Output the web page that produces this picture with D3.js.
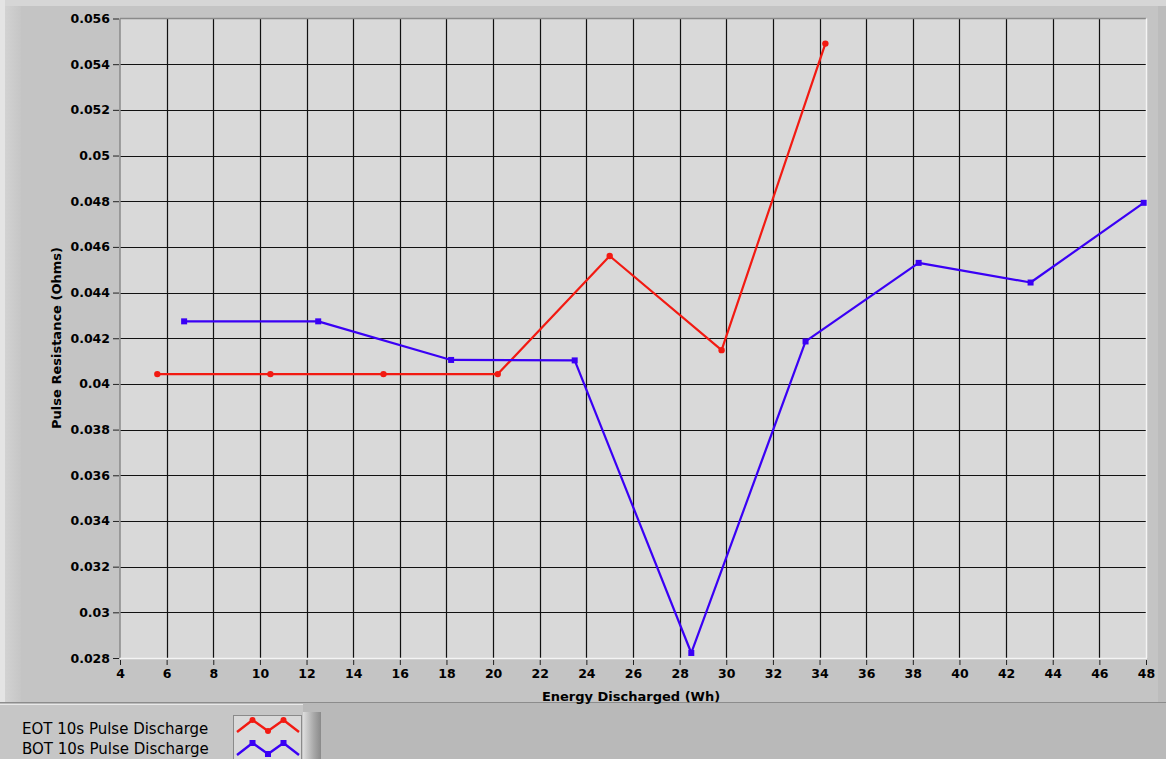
<!DOCTYPE html>
<html><head><meta charset="utf-8">
<script src="https://cdn.jsdelivr.net/npm/d3@7"></script>
<style>
html,body{margin:0;padding:0;background:#c4c4c4;overflow:hidden}
text{font-family:"DejaVu Sans",Verdana,sans-serif}
</style></head>
<body>
<svg id="c" width="1166" height="759"></svg>
<script>
// Data
const eotX = [5.6, 10.45, 15.3, 20.2, 25.0, 29.8, 34.25];
const eotY = [0.04043, 0.04043, 0.04043, 0.04043, 0.04560, 0.04148, 0.05490];
const botX = [6.75, 12.5, 18.2, 23.5, 28.5, 33.4, 38.25, 43.05, 47.9];
const botY = [0.04274, 0.04274, 0.04105, 0.04103, 0.02822, 0.04186, 0.04530, 0.04444, 0.04793];
const xTicks = [4,6,8,10,12,14,16,18,20,22,24,26,28,30,32,34,36,38,40,42,44,46,48];
const yTicks = [0.028,0.03,0.032,0.034,0.036,0.038,0.04,0.042,0.044,0.046,0.048,0.05,0.052,0.054,0.056];
const seriesNames = ["EOT 10s Pulse Discharge", "BOT 10s Pulse Discharge"];
const seriesColors = ["#f21a12", "#3a00f5"];
const xTitle = "Energy Discharged (Wh)";
const yTitle = "Pulse Resistance (Ohms)";

const svg = d3.select("#c");
const W = 1166, H = 759;
const L = 120, R = 1146, T = 18.5, B = 658;

// frame background
svg.append("rect").attr("x",0).attr("y",0).attr("width",W).attr("height",H).attr("fill","#c4c4c4");
svg.append("rect").attr("x",0).attr("y",0).attr("width",W).attr("height",6).attr("fill","#d6d6d6");
svg.append("rect").attr("x",0).attr("y",0).attr("width",5).attr("height",703).attr("fill","#e4e4e4");
const defs = svg.append("defs");
const lg = defs.append("linearGradient").attr("id","lstrip");
lg.append("stop").attr("offset","0%").attr("stop-color","#d2d2d2");
lg.append("stop").attr("offset","100%").attr("stop-color","#c6c6c6");
svg.append("rect").attr("x",5).attr("y",6).attr("width",16).attr("height",697).attr("fill","url(#lstrip)");
svg.append("rect").attr("x",1158).attr("y",6).attr("width",8).attr("height",697).attr("fill","#bcbcbc");
// bottom area
svg.append("rect").attr("x",0).attr("y",703).attr("width",W).attr("height",56).attr("fill","#b9b9b9");
svg.append("line").attr("x1",0).attr("x2",W).attr("y1",702.5).attr("y2",702.5).attr("stroke","#8c8c8c");
// legend panel
svg.append("rect").attr("x",0).attr("y",704).attr("width",303).attr("height",55).attr("fill","#c6c6c6");
svg.append("line").attr("x1",0).attr("x2",303).attr("y1",704.5).attr("y2",704.5).attr("stroke","#e8e8e8");
const sg = defs.append("linearGradient").attr("id","sbar");
sg.append("stop").attr("offset","0%").attr("stop-color","#dedede");
sg.append("stop").attr("offset","60%").attr("stop-color","#a8a8a8");
sg.append("stop").attr("offset","100%").attr("stop-color","#8a8a8a");
svg.append("rect").attr("x",303).attr("y",712).attr("width",18).attr("height",47).attr("fill","url(#sbar)");

// scales
const x = d3.scaleLinear().domain([4,48]).range([L,R]);
const y = d3.scaleLinear().domain([0.028,0.056]).range([B,T]);

// plot area
svg.append("rect").attr("x",L).attr("y",T).attr("width",R-L).attr("height",B-T).attr("fill","#d9d9d9");
// grid
const g = svg.append("g");
g.selectAll(".gx").data(xTicks.slice(1,-1)).join("line")
 .attr("x1",d=>Math.round(x(d))+0.5).attr("x2",d=>Math.round(x(d))+0.5)
 .attr("y1",T).attr("y2",B).attr("stroke","#111").attr("stroke-width",1.2);
g.selectAll(".gy").data(yTicks.slice(1,-1)).join("line")
 .attr("y1",d=>Math.round(y(d))+0.5).attr("y2",d=>Math.round(y(d))+0.5)
 .attr("x1",L).attr("x2",R).attr("stroke","#111").attr("stroke-width",1.2);
// borders
svg.append("line").attr("x1",L).attr("x2",R).attr("y1",T).attr("y2",T).attr("stroke","#8a8a8a").attr("stroke-width",1.5);
svg.append("line").attr("x1",L).attr("x2",L).attr("y1",T).attr("y2",B).attr("stroke","#8a8a8a").attr("stroke-width",1.5);
svg.append("line").attr("x1",L).attr("x2",R+1).attr("y1",B+0.5).attr("y2",B+0.5).attr("stroke","#f4f4f4").attr("stroke-width",1.5);
svg.append("line").attr("x1",R+0.5).attr("x2",R+0.5).attr("y1",T).attr("y2",B).attr("stroke","#f4f4f4").attr("stroke-width",1.5);

// axes
const xAxis = d3.axisBottom(x).tickValues(xTicks).tickSize(6).tickPadding(4).tickFormat(d3.format("d"));
const xa = svg.append("g").attr("transform",`translate(0,${B+1})`).call(xAxis);
const yAxis = d3.axisLeft(y).tickValues(yTicks).tickSize(6).tickPadding(3).tickFormat(d=>String(+d.toFixed(3)));
const ya = svg.append("g").attr("transform",`translate(${L-1},0)`).call(yAxis);
[xa,ya].forEach(a=>{
  a.select(".domain").remove();
  a.selectAll(".tick line").attr("stroke","#222");
  a.selectAll(".tick text").attr("fill","#000").attr("font-size","12.5px").attr("font-weight","bold")
   .style("font-family","'DejaVu Sans',Verdana,sans-serif");
});
xa.selectAll(".tick line").attr("y1",1);

svg.append("text").attr("x",631).attr("y",701).attr("text-anchor","middle")
 .attr("font-size","13px").attr("font-weight","bold").attr("fill","#000").text(xTitle);
svg.append("text").attr("transform","translate(61,338) rotate(-90)").attr("text-anchor","middle")
 .attr("font-size","13px").attr("font-weight","bold").attr("fill","#000").text(yTitle);

// series
const line = d3.line().x(d=>x(d[0])).y(d=>y(d[1]));
const eot = eotX.map((v,i)=>[v,eotY[i]]);
const bot = botX.map((v,i)=>[v,botY[i]]);
svg.append("path").datum(eot).attr("d",line).attr("fill","none").attr("stroke",seriesColors[0]).attr("stroke-width",2.2).attr("stroke-linejoin","round");
svg.append("path").datum(bot).attr("d",line).attr("fill","none").attr("stroke",seriesColors[1]).attr("stroke-width",2.2).attr("stroke-linejoin","round");
svg.selectAll(".pe").data(eot).join("circle").attr("cx",d=>x(d[0])).attr("cy",d=>y(d[1])).attr("r",3.2).attr("fill",seriesColors[0]);
svg.selectAll(".pb").data(bot).join("rect").attr("x",d=>x(d[0])-3).attr("y",d=>y(d[1])-3).attr("width",6).attr("height",6).attr("fill",seriesColors[1]);

// legend
svg.append("text").attr("x",22).attr("y",734).attr("font-size","15px").attr("fill","#000").text(seriesNames[0]);
svg.append("text").attr("x",22).attr("y",754).attr("font-size","15px").attr("fill","#000").text(seriesNames[1]);
svg.append("rect").attr("x",233.5).attr("y",715.5).attr("width",68).attr("height",50).attr("fill","#d9d9d9").attr("stroke","#8a8a8a");
const sx = d3.scaleLinear().domain([0,4]).range([237,299]);
const zig = [[0,1],[1,0],[2,1],[3,0],[4,1]];
[0,1].forEach(s=>{
  const base = s===0 ? 731 : 754;
  const pts = zig.map(p=>[sx(p[0]), base + (p[1]===0 ? -11 : 0) + (p[0]===0||p[0]===4 ? 1 : 0)]);
  svg.append("path").attr("d",d3.line()(pts)).attr("fill","none").attr("stroke",seriesColors[s]).attr("stroke-width",2.4);
  if(s===0){
    svg.selectAll(".lm0").data(pts.slice(1,4)).join("circle").attr("cx",d=>d[0]).attr("cy",d=>d[1]).attr("r",3).attr("fill",seriesColors[0]);
  } else {
    svg.selectAll(".lm1").data(pts.slice(1,4)).join("rect").attr("x",d=>d[0]-3).attr("y",d=>d[1]-3).attr("width",6).attr("height",6).attr("fill",seriesColors[1]);
  }
});
</script>
</body></html>
